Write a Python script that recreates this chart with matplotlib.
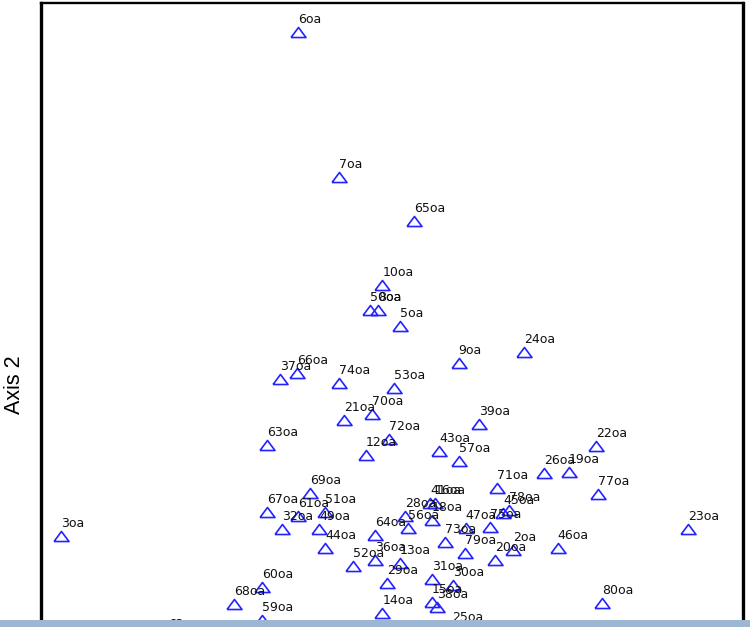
import matplotlib
matplotlib.use("Agg")
import matplotlib.pyplot as plt
from matplotlib.patches import Rectangle

# Ordination scores of the sample units (Axis 1, Axis 2)
sites = ["6oa", "7oa", "65oa", "10oa", "50oa", "8oa", "5oa", "24oa", "9oa",
         "37oa", "66oa", "74oa", "53oa", "70oa", "21oa", "39oa", "63oa",
         "72oa", "12oa", "43oa", "57oa", "22oa", "26oa", "19oa", "77oa",
         "71oa", "69oa", "67oa", "61oa", "51oa", "32oa", "49oa", "44oa",
         "64oa", "28oa", "56oa", "41oa", "16oa", "18oa", "73oa", "47oa",
         "75oa", "45oa", "78oa", "2oa", "20oa", "46oa", "79oa", "23oa",
         "80oa", "25oa", "13oa", "36oa", "52oa", "29oa", "31oa", "30oa",
         "15oa", "38oa", "14oa", "60oa", "68oa", "59oa", "3oa", "62oa"]
axis1 = [36.6, 42.4, 53.1, 48.6, 46.9, 48.0, 51.1, 68.8, 59.5,
         34.0, 36.5, 42.4, 50.3, 47.2, 43.2, 62.4, 32.2,
         49.6, 46.3, 56.7, 59.5, 79.1, 71.7, 75.2, 79.3,
         65.0, 38.3, 32.2, 36.6, 40.5, 34.3, 39.6, 40.5,
         47.6, 51.9, 52.3, 55.4, 56.1, 55.7, 57.5, 60.5,
         64.0, 65.8, 66.7, 67.2, 64.7, 73.6, 60.4, 92.2,
         79.9, 58.5, 51.1, 47.6, 44.4, 49.3, 55.7, 58.7,
         55.7, 56.4, 48.6, 31.5, 27.5, 31.5, 2.8, 18.1]
axis2 = [95.9, 75.2, 69.0, 59.8, 56.3, 56.3, 54.0, 50.3, 48.7,
         46.4, 47.3, 45.9, 45.2, 41.5, 40.6, 40.0, 37.0,
         37.9, 35.6, 36.2, 34.8, 36.9, 33.0, 33.2, 30.1,
         30.9, 30.2, 27.5, 26.9, 27.5, 25.1, 25.1, 22.4,
         24.2, 26.9, 25.2, 28.8, 28.8, 26.4, 23.2, 25.2,
         25.4, 27.4, 27.8, 22.1, 20.7, 22.4, 21.7, 25.1,
         14.5, 10.7, 20.2, 20.7, 19.8, 17.4, 17.9, 17.1,
         14.7, 14.0, 13.1, 16.8, 14.4, 12.1, 24.1, 9.7]

W, H = 750, 627
fig = plt.figure(figsize=(W / 100, H / 100), dpi=100)

# plot frame: left edge at 41 px, 702 px wide, top at 3 px; runs past the bottom edge
x0, x1 = 0.0, 100.0
y0, y1 = 5.0, 100.0
scale = 702 / (x1 - x0)
ax_h = (y1 - y0) * scale
ax = fig.add_axes([41 / W, (H - 3 - ax_h) / H, 702 / W, ax_h / H])
ax.set_xlim(x0, x1)
ax.set_ylim(y0, y1)
ax.set_xticks([])
ax.set_yticks([])
ax.spines["bottom"].set_visible(False)
ax.spines["left"].set_linewidth(2.4)
ax.spines["right"].set_linewidth(2.4)
ax.spines["top"].set_linewidth(1.7)

# open, flattened triangles
tri = [(-1.0, -0.67), (1.0, -0.67), (0.0, 0.67), (-1.0, -0.67)]
ax.plot(axis1, axis2, linestyle="none", marker=tri, markersize=10.8,
        markerfacecolor="none", markeredgecolor="#2323ff",
        markeredgewidth=1.2, clip_on=False)

for name, a1, a2 in zip(sites, axis1, axis2):
    ax.annotate(name, (a1, a2), xytext=(0, 9), textcoords="offset pixels",
                ha="left", va="baseline", fontsize=9, color="#111111",
                family="DejaVu Sans", annotation_clip=False)

fig.text(15 / W, 1 - 385 / H, "Axis 2", rotation=90, ha="center",
         va="center", fontsize=15.5, family="Liberation Sans")

# window strip along the bottom edge
fig.add_artist(Rectangle((0, 0), 1, 7 / H, transform=fig.transFigure,
                         facecolor="#9db6d1", edgecolor="none", zorder=10))

fig.savefig("out.png", dpi=100)
